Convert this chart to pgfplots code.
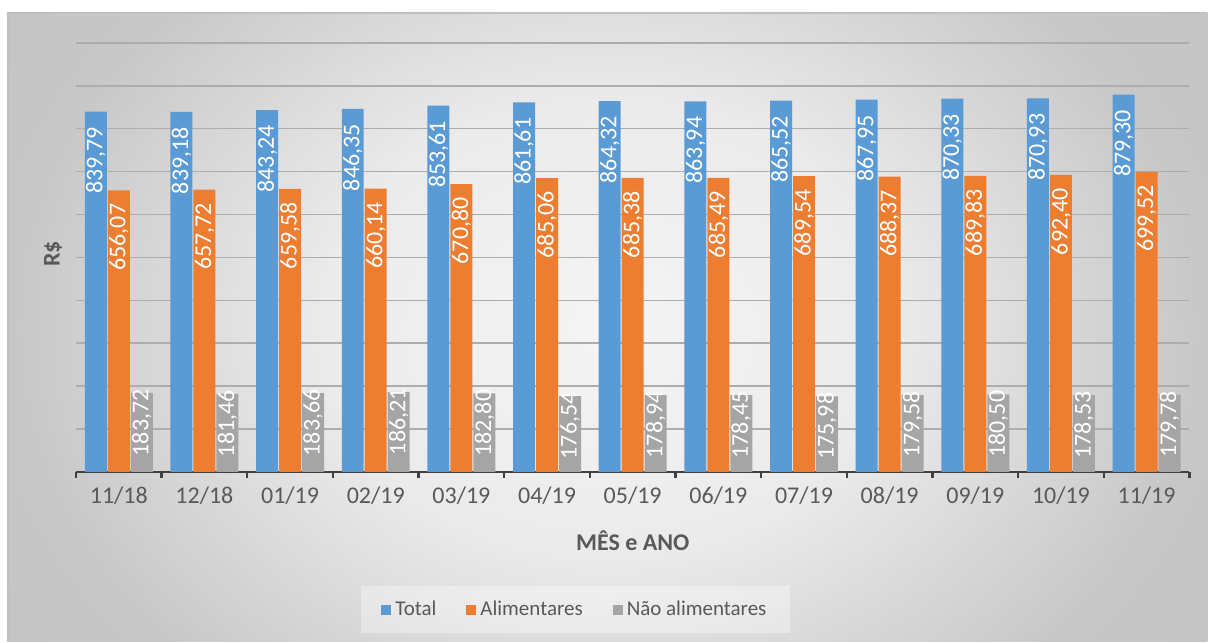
\documentclass[border=0pt]{standalone}
\usepackage{pgfplots}
\pgfplotsset{compat=1.18}
\usepackage{fontspec}
\setmainfont{Carlito}
\definecolor{cblue}{HTML}{5B9BD5}
\definecolor{corange}{HTML}{ED7D31}
\definecolor{cgray}{HTML}{A5A5A5}
\definecolor{ctext}{HTML}{595959}
\pgfdeclareradialshading{bgshade}{\pgfpoint{0bp}{0bp}}{color(0bp)=(white!96!black); color(12bp)=(white!92!black); color(25bp)=(black!22); color(50bp)=(black!26)}
\begin{document}
\begin{tikzpicture}[x=1pt,y=1pt]
\fill[white] (0,0) rectangle (604,321);
\begin{scope}
\clip (4,0) rectangle (604,314.5);
\shade[shading=bgshade] (4,-80) rectangle (604,394.5);
\end{scope}
\draw[black!25, line width=0.6pt] (4,0) -- (4,314.5) -- (604,314.5);
\begin{axis}[
  at={(38pt,85pt)}, anchor=south west,
  scale only axis, width=557pt, height=214.5pt,
  xmin=-0.5, xmax=12.5, ymin=0, ymax=1000,
  ybar=0.5pt, bar width=11pt,
  axis x line*=bottom, axis y line*=left,
  y axis line style={draw=none},
  x axis line style={draw=black!75, line width=1.2pt},
  xtick={0,...,12},
  xticklabels={11/18,12/18,01/19,02/19,03/19,04/19,05/19,06/19,07/19,08/19,09/19,10/19,11/19},
  minor xtick={-0.5,0.5,...,12.5},
  tick align=outside,
  major tick length=0pt,
  minor tick length=3pt,
  minor tick style={draw=black!75, line width=1.2pt},
  ytick={0,100,...,1000},
  yticklabels={},
  ymajorgrids,
  major grid style={draw=black!32, line width=0.7pt},
  xticklabel style={font=\fontsize{12}{14}\selectfont, text=ctext, yshift=-4pt},
  xlabel={MÊS e ANO},
  ylabel={R\$},
  every axis x label/.style={at={(axis description cs:0.5,-0.161)}, anchor=center, font=\fontsize{12}{14}\selectfont\bfseries, text=ctext},
  every axis y label/.style={at={(axis description cs:-0.0206,0.508)}, rotate=90, anchor=center, font=\fontsize{12}{14}\selectfont\bfseries, text=ctext},
  /pgf/number format/assume math mode=true,
  /pgf/number format/.cd, fixed, fixed zerofill, precision=2, use comma, 1000 sep={},
  /pgfplots/.cd,
  nodes near coords,
  point meta=y,
  nodes near coords style={font=\fontsize{12}{14}\selectfont, text=white, rotate=90, anchor=east, inner ysep=0pt},
  legend columns=3,
  legend style={at={(axis description cs:0.449,-0.3217)}, anchor=center,
    draw=none, fill=white, fill opacity=0.35, text opacity=1,
    inner xsep=10pt, inner ysep=5.5pt,
    font=\fontsize{10.5}{12}\selectfont, text=ctext,
    /tikz/every even column/.append style={column sep=13pt}},
  legend image code/.code={\fill[#1, draw=none, fill opacity=1] (0pt,-2.5pt) rectangle (5pt,2.5pt);},
]
\addplot[fill=cblue, draw=none, nodes near coords style={inner xsep=7.5pt}]
  coordinates {(0,839.79) (1,839.18) (2,843.24) (3,846.35) (4,853.61) (5,861.61) (6,864.32) (7,863.94) (8,865.52) (9,867.95) (10,870.33) (11,870.93) (12,879.30)};
\addplot[fill=corange, draw=none, nodes near coords style={inner xsep=6.5pt}]
  coordinates {(0,656.07) (1,657.72) (2,659.58) (3,660.14) (4,670.80) (5,685.06) (6,685.38) (7,685.49) (8,689.54) (9,688.37) (10,689.83) (11,692.40) (12,699.52)};
\addplot[fill=cgray, draw=none, nodes near coords style={inner xsep=-2pt}]
  coordinates {(0,183.72) (1,181.46) (2,183.66) (3,186.21) (4,182.80) (5,176.54) (6,178.94) (7,178.45) (8,175.98) (9,179.58) (10,180.50) (11,178.53) (12,179.78)};
\legend{Total, Alimentares, Não alimentares}
\end{axis}
\end{tikzpicture}
\end{document}
